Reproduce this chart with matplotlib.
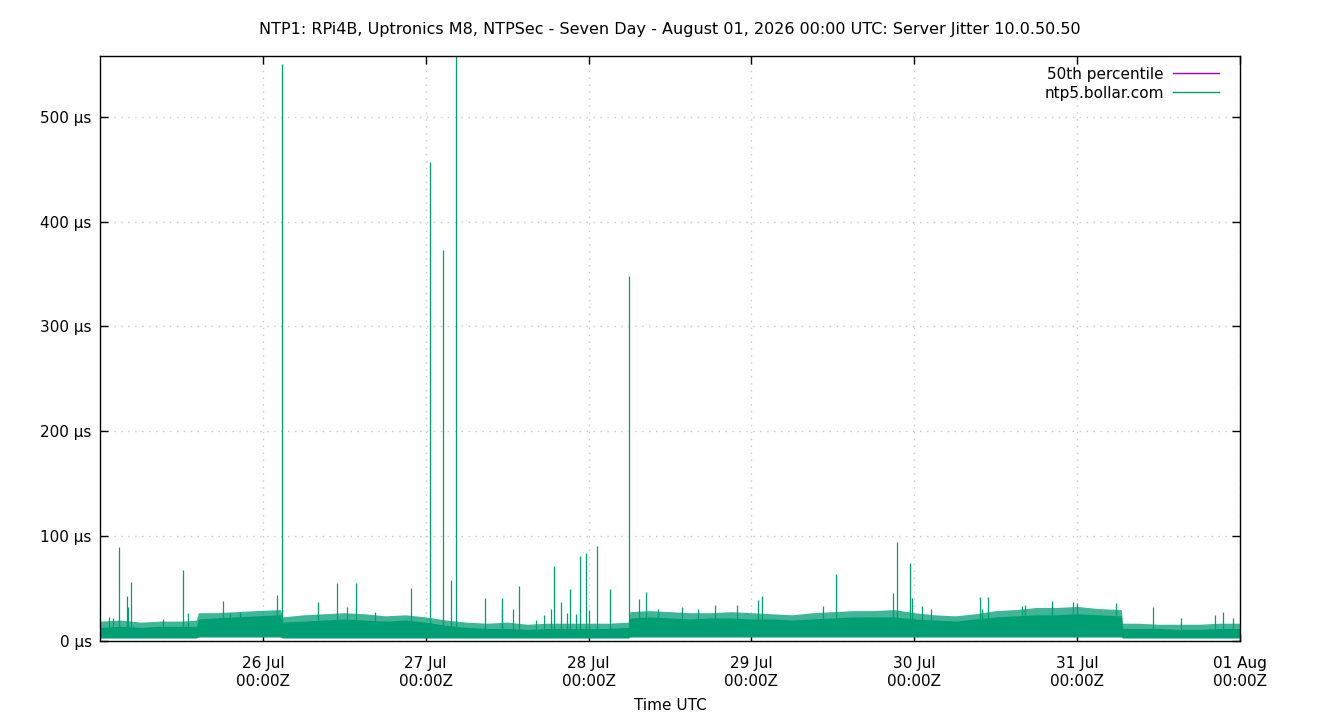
import numpy as np
import matplotlib
matplotlib.use("Agg")
import matplotlib.pyplot as plt
import matplotlib.dates as mdates

# time origin of the plot
start = np.datetime64("2026-07-25T00:00")

# envelope of the dense jitter band
# hours after 25 Jul 00:00, bottom, dense core top, top of frequent excursions (us)
env_hours = [0, 3, 6, 9, 12, 14.2, 14.5, 17, 20, 23, 26.6, 26.9, 30, 33, 36, 39,
             42, 45, 48, 51, 54, 57, 60, 63, 66, 69, 72, 75, 77.9, 78.1, 81, 84,
             87, 90, 93, 96, 99, 102, 105, 108, 111, 114, 117, 120, 123, 126, 129,
             132, 135, 138, 141, 144, 147, 150.5, 150.7, 153, 156, 159, 162, 165, 168]
band_low = [3, 3, 3, 3, 3, 3, 4, 4, 4, 4, 4, 3, 3, 3, 3, 3,
            3, 3, 3, 3, 3, 3, 3, 3, 3, 3, 3, 3, 3, 4, 4, 4,
            4, 4, 4, 4, 4, 4, 4, 4, 4, 4, 4, 4, 4, 4, 4,
            4, 4, 4, 4, 4, 4, 4, 3, 3, 3, 3, 3, 3, 3]
band_core = [13, 14, 13, 14, 14, 14, 21, 22, 23, 24, 25, 18, 19, 20, 21, 20,
             19, 20, 18, 15, 13, 12, 12, 11, 12, 12, 12, 12, 13, 22, 23, 22,
             21, 22, 22, 21, 21, 20, 21, 22, 23, 23, 23, 21, 20, 19, 21,
             23, 24, 25, 25, 26, 25, 24, 12, 12, 12, 11, 11, 12, 12]
band_peak = [19, 20, 18, 19, 19, 20, 27, 27, 28, 29, 30, 23, 25, 26, 27, 26,
             24, 25, 23, 20, 18, 17, 18, 16, 17, 17, 17, 17, 18, 28, 29, 28,
             27, 27, 28, 27, 26, 25, 27, 28, 29, 29, 30, 27, 25, 24, 26,
             29, 30, 32, 32, 33, 31, 30, 17, 17, 16, 16, 16, 17, 17]

# individual spikes: hours after 25 Jul 00:00 and peak value (us)
spike_hours = [1.3, 1.9, 2.8, 4.0, 4.1, 4.6, 9.3, 12.2, 13.0, 18.1, 19.1, 20.6,
               26.1, 26.8, 32.1, 34.9, 36.4, 37.8, 40.6, 45.9, 48.6, 50.5,
               51.8, 52.4, 56.8, 59.2, 59.3, 60.8, 61.7, 64.3, 65.4, 66.4,
               66.9, 67.9, 68.8, 69.2, 70.2, 70.8, 71.6, 72.0, 73.2, 75.1,
               78.0, 79.5, 80.5, 82.2, 85.7, 88.1, 90.6, 93.8, 96.9, 97.6,
               106.5, 108.5, 116.9, 117.4, 119.3, 119.7, 121.2, 122.5, 129.7,
               130.0, 130.8, 135.9, 136.3, 140.3, 143.4, 144.0, 149.7, 155.2,
               159.3, 164.3, 165.5, 167.0]
spike_us = [23, 22, 90, 43, 32, 56, 21, 68, 27, 38, 27, 28,
            44, 550, 37, 55, 32, 55, 28, 51, 457, 373,
            58, 600, 41, 41, 31, 31, 52, 20, 25, 31,
            72, 37, 27, 50, 26, 81, 84, 30, 91, 50,
            348, 40, 47, 31, 32, 31, 34, 34, 39, 43,
            33, 64, 46, 94, 74, 41, 33, 31, 42,
            31, 42, 33, 34, 38, 37, 36, 36, 32,
            22, 25, 28, 22]

median_us = 10
y_ticks = [0, 100, 200, 300, 400, 500]

green = "#009e73"
purple = "#9400d3"


def to_time(hours):
    return start + (np.asarray(hours) * 60).astype("timedelta64[m]")


fig = plt.figure(figsize=(13.4, 7.2), dpi=100)
ax = fig.add_axes([0.0746, 0.1097, 0.8508, 0.8125])

t_env = to_time(env_hours)
t_spk = to_time(spike_hours)

ax.plot([to_time(0), to_time(168)], [median_us, median_us], color=purple,
        lw=1, zorder=1, label="50th percentile")
ax.fill_between(t_env, band_low, band_peak, color=green, alpha=0.75, lw=0, zorder=2)
ax.fill_between(t_env, band_low, band_core, color=green, lw=0, zorder=2)
ax.vlines(t_spk, 5, spike_us, color=green, lw=0.9, zorder=2)
ax.plot([], [], color=green, lw=1, label="ntp5.bollar.com")

ax.set_xlim(to_time(0), to_time(168))
ax.set_ylim(0, 558)
ax.set_yticks(y_ticks)
ax.set_yticklabels([f"{v} µs" for v in y_ticks])

ax.xaxis.set_major_locator(mdates.DayLocator())
ax.xaxis.set_major_formatter(mdates.DateFormatter("%d %b\n%H:%MZ"))
labels = ax.get_xticks()
ax.set_xticks(labels[1:])

ax.tick_params(direction="in", length=6, width=1, top=True, right=True,
               labelsize=11)
ax.tick_params(axis="x", pad=11)
ax.tick_params(axis="y", pad=6)
ax.grid(True, color="#c8c8c8", linestyle=(0, (1, 4)), lw=1)
for s in ax.spines.values():
    s.set_linewidth(1)

ax.set_xlabel("Time UTC", fontsize=11, labelpad=7)
fig.suptitle("NTP1: RPi4B, Uptronics M8, NTPSec - Seven Day - August 01, 2026 00:00 UTC: "
             "Server Jitter 10.0.50.50", fontsize=11.5, y=0.969)

leg = ax.legend(loc="upper right", bbox_to_anchor=(0.9868, 0.9921), borderaxespad=0,
                frameon=False, markerfirst=False, fontsize=11,
                handlelength=3.0, handletextpad=0.6, labelspacing=0.25)

fig.savefig("out.png", dpi=100)
